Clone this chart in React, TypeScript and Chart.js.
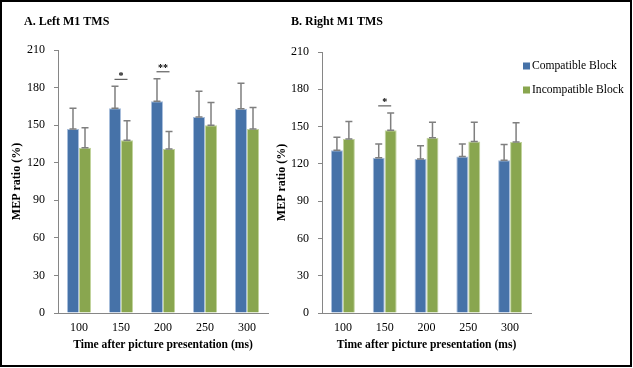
import React, { useEffect, useRef } from "react";
import { Chart, registerables } from "chart.js";

Chart.register(...registerables);

const categories = ["100", "150", "200", "250", "300"];
const seriesNames = ["Compatible Block", "Incompatible Block"];

const leftCompatible = [147, 163.5, 169, 156.5, 163];
const leftCompatibleErr = [16.5, 17.5, 18, 20.5, 20.5];
const leftIncompatible = [132, 138, 131, 150, 147];
const leftIncompatibleErr = [16, 15.5, 14, 18, 17];

const rightCompatible = [131, 125, 124, 126, 123];
const rightCompatibleErr = [10.5, 11, 10.5, 10, 12.5];
const rightIncompatible = [140, 147, 141, 138, 137.5];
const rightIncompatibleErr = [14, 14, 12.5, 15.5, 15.5];

const leftSignificance = [
  { index: 1, label: "*" },
  { index: 2, label: "**" },
];
const rightSignificance = [{ index: 1, label: "*" }];

const yTicks = [0, 30, 60, 90, 120, 150, 180, 210];

const FONT = "'Liberation Serif', 'Times New Roman', serif";
const BLUE = "#4672A8";
const GREEN = "#89A64F";
const BLUE_EDGE = "#A8BEDC";
const GREEN_EDGE = "#C2D49D";
const AXIS = "#868686";

const decorPlugin = {
  id: "decor",
  afterDatasetsDraw(chart: any, _args: any, opts: any) {
    const ctx = chart.ctx;
    const yScale = chart.scales.y;
    const xScale = chart.scales.x;
    chart.data.datasets.forEach((ds: any, i: number) => {
      const meta = chart.getDatasetMeta(i);
      meta.data.forEach((bar: any, j: number) => {
        const v = ds.data[j];
        const e = ds.errors[j];
        const yBase = yScale.getPixelForValue(v);
        const yTop = yScale.getPixelForValue(v + e);
        const x = bar.x;
        const cap = 3.5;
        ctx.save();
        ctx.strokeStyle = "#7F7F7F";
        ctx.lineWidth = 1.5;
        ctx.beginPath();
        ctx.moveTo(x, yBase);
        ctx.lineTo(x, yTop);
        ctx.moveTo(x - cap, yTop);
        ctx.lineTo(x + cap, yTop);
        ctx.moveTo(x - cap, yBase);
        ctx.lineTo(x + cap, yBase);
        ctx.stroke();
        ctx.restore();
      });
    });
    (opts.significance || []).forEach((s: any) => {
      let maxTop = 0;
      chart.data.datasets.forEach((ds: any) => {
        maxTop = Math.max(maxTop, ds.data[s.index] + ds.errors[s.index]);
      });
      const y = yScale.getPixelForValue(maxTop) - 7;
      const cx = xScale.getPixelForValue(s.index);
      ctx.save();
      ctx.strokeStyle = "#404040";
      ctx.lineWidth = 1;
      ctx.beginPath();
      ctx.moveTo(cx - 6.5, y);
      ctx.lineTo(cx + 6.5, y);
      ctx.stroke();
      ctx.fillStyle = "#000";
      ctx.font = `bold 10px ${FONT}`;
      ctx.textAlign = "center";
      ctx.textBaseline = "middle";
      ctx.fillText(s.label, cx, y - 3);
      ctx.restore();
    });
  },
  afterDraw(chart: any, _args: any, opts: any) {
    const ctx = chart.ctx;
    const area = chart.chartArea;
    ctx.save();
    ctx.fillStyle = "#000";
    ctx.font = `bold 12px ${FONT}`;
    ctx.textAlign = "left";
    ctx.textBaseline = "middle";
    ctx.fillText(opts.title, area.left + opts.titleDx, 22);
    if (opts.legend) {
      ctx.font = `11.6px ${FONT}`;
      chart.data.datasets.forEach((ds: any, i: number) => {
        const ly = 66 + i * 24;
        const lx = area.right - 8;
        ctx.fillStyle = ds.backgroundColor;
        ctx.fillRect(lx, ly - 3.5, 7, 7);
        ctx.fillStyle = "#000";
        ctx.fillText(ds.label, lx + 9, ly);
      });
    }
    ctx.restore();
  },
};

type PanelProps = {
  left: number;
  width: number;
  compatible: number[];
  compatibleErr: number[];
  incompatible: number[];
  incompatibleErr: number[];
  significance: { index: number; label: string }[];
  title: string;
  titleDx: number;
  legend: boolean;
  yAxisWidth: number;
  yTitlePad: number;
  padTop: number;
  padRight: number;
};

function Panel(p: PanelProps) {
  const ref = useRef<HTMLCanvasElement | null>(null);
  useEffect(() => {
    if (!ref.current) return;
    const chart = new Chart(ref.current, {
      type: "bar",
      data: {
        labels: categories,
        datasets: [
          {
            label: seriesNames[0],
            data: p.compatible,
            errors: p.compatibleErr,
            backgroundColor: BLUE,
            borderColor: BLUE_EDGE,
            borderWidth: 1,
          } as any,
          {
            label: seriesNames[1],
            data: p.incompatible,
            errors: p.incompatibleErr,
            backgroundColor: GREEN,
            borderColor: GREEN_EDGE,
            borderWidth: 1,
          } as any,
        ],
      },
      options: {
        animation: false,
        responsive: false,
        maintainAspectRatio: false,
        datasets: { bar: { categoryPercentage: 0.572, barPercentage: 1 } },
        layout: { padding: { left: 0, top: p.padTop, right: p.padRight, bottom: 0 } },
        plugins: {
          legend: { display: false },
          tooltip: { enabled: false },
          decor: {
            significance: p.significance,
            title: p.title,
            titleDx: p.titleDx,
            legend: p.legend,
          },
        } as any,
        scales: {
          x: {
            grid: { display: false, drawTicks: false },
            border: { display: true, color: AXIS, width: 1 },
            ticks: { color: "#000", font: { family: FONT, size: 12 }, padding: 8 },
            title: {
              display: true,
              text: "Time after picture presentation (ms)",
              color: "#000",
              font: { family: FONT, size: 11.6, weight: "bold" },
              padding: { top: 0, bottom: 16 },
            },
            afterFit: (s: any) => {
              s.height = 55;
            },
          },
          y: {
            min: 0,
            max: 210,
            afterBuildTicks: (s: any) => {
              s.ticks = yTicks.map((v) => ({ value: v }));
            },
            grid: {
              display: true,
              drawOnChartArea: false,
              drawTicks: true,
              tickLength: 4,
              color: AXIS,
            },
            border: { display: true, color: AXIS, width: 1 },
            ticks: { color: "#000", font: { family: FONT, size: 12 }, padding: 9 },
            title: {
              display: true,
              text: "MEP ratio (%)",
              color: "#000",
              font: { family: FONT, size: 12, weight: "bold" },
              padding: { top: p.yTitlePad, bottom: 0 },
            },
            afterFit: (s: any) => {
              s.width = p.yAxisWidth;
            },
          },
        },
      } as any,
      plugins: [decorPlugin],
    });
    return () => chart.destroy();
  }, []);
  return (
    <canvas
      ref={ref}
      width={p.width}
      height={368}
      style={{ position: "absolute", left: p.left, top: 0, width: p.width, height: 368 }}
    />
  );
}

export default function App() {
  return (
    <div
      style={{
        position: "absolute",
        left: 0,
        top: 0,
        width: 633,
        height: 368,
        background: "#fff",
        overflow: "hidden",
      }}
    >
      <Panel
        left={0}
        width={285}
        compatible={leftCompatible}
        compatibleErr={leftCompatibleErr}
        incompatible={leftIncompatible}
        incompatibleErr={leftIncompatibleErr}
        significance={leftSignificance}
        title="A. Left M1 TMS"
        titleDx={-34}
        legend={false}
        yAxisWidth={58}
        yTitlePad={10}
        padTop={50}
        padRight={17}
      />
      <Panel
        left={262}
        width={371}
        compatible={rightCompatible}
        compatibleErr={rightCompatibleErr}
        incompatible={rightIncompatible}
        incompatibleErr={rightIncompatibleErr}
        significance={rightSignificance}
        title="B. Right M1 TMS"
        titleDx={-31}
        legend={true}
        yAxisWidth={60}
        yTitlePad={13}
        padTop={52}
        padRight={102}
      />
      <div
        style={{
          position: "absolute",
          left: 0,
          top: 0,
          width: 632,
          height: 367,
          border: "2px solid #000",
          boxSizing: "border-box",
          pointerEvents: "none",
        }}
      />
    </div>
  );
}
